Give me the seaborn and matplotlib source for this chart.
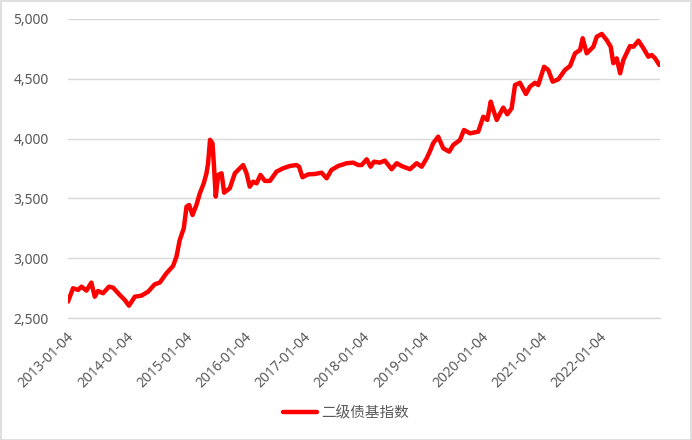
import pandas as pd
import matplotlib
matplotlib.use('Agg')
import matplotlib.pyplot as plt
from matplotlib.patches import Rectangle
from matplotlib.transforms import ScaledTranslation
import seaborn as sns

# Données (date, valeur de l'indice)
dates = [
    '2013-01-04', '2013-02-04', '2013-03-07', '2013-03-28', '2013-04-28',
    '2013-05-28', '2013-06-18', '2013-07-08', '2013-08-08', '2013-09-14',
    '2013-10-09', '2013-11-19', '2013-12-20', '2014-01-15', '2014-02-20',
    '2014-04-02', '2014-05-13', '2014-06-23', '2014-07-24', '2014-09-03',
    '2014-10-14', '2014-11-04', '2014-11-24', '2014-12-19', '2015-01-05',
    '2015-01-21', '2015-02-11', '2015-03-07', '2015-03-28', '2015-04-21',
    '2015-05-08', '2015-05-18', '2015-05-30', '2015-06-14', '2015-06-22',
    '2015-07-04', '2015-07-19', '2015-08-09', '2015-08-25', '2015-09-29',
    '2015-10-30', '2015-11-30', '2015-12-20', '2016-01-10', '2016-01-30',
    '2016-02-20', '2016-03-12', '2016-04-05', '2016-05-02', '2016-06-02',
    '2016-07-13', '2016-08-23', '2016-10-03', '2016-11-13', '2016-11-29',
    '2016-12-20', '2017-01-24', '2017-03-06', '2017-04-17', '2017-05-18',
    '2017-06-17', '2017-07-28', '2017-09-18', '2017-10-29', '2017-11-29',
    '2017-12-20', '2018-01-20', '2018-02-13', '2018-03-06', '2018-04-11',
    '2018-05-12', '2018-06-23', '2018-07-24', '2018-08-23', '2018-10-14',
    '2018-11-24', '2018-12-25', '2019-01-25', '2019-02-16', '2019-03-06',
    '2019-04-06', '2019-05-07', '2019-06-13', '2019-07-08', '2019-08-18',
    '2019-09-12', '2019-10-19', '2019-12-09', '2020-01-09', '2020-02-03',
    '2020-02-24', '2020-03-11', '2020-04-01', '2020-05-11', '2020-06-05',
    '2020-07-02', '2020-07-23', '2020-08-22', '2020-09-28', '2020-10-23',
    '2020-11-23', '2020-12-13', '2021-01-18', '2021-02-13', '2021-03-12',
    '2021-04-16', '2021-05-27', '2021-06-27', '2021-07-28', '2021-08-28',
    '2021-09-13', '2021-10-08', '2021-11-18', '2021-12-09', '2022-01-09',
    '2022-02-08', '2022-03-05', '2022-03-21', '2022-04-11', '2022-05-02',
    '2022-05-22', '2022-07-02', '2022-07-23', '2022-08-23', '2022-09-23',
    '2022-10-23', '2022-11-13', '2022-12-04', '2022-12-30',
]
valeurs = [
    2637, 2749, 2735, 2762, 2729, 2796, 2678, 2726, 2707, 2762,
    2754, 2693, 2651, 2603, 2678, 2687, 2720, 2782, 2796, 2874,
    2935, 3013, 3152, 3250, 3431, 3445, 3361, 3445, 3542, 3626,
    3710, 3794, 3990, 3961, 3800, 3515, 3696, 3710, 3548, 3585,
    3710, 3752, 3779, 3710, 3598, 3640, 3626, 3696, 3646, 3646,
    3724, 3752, 3771, 3779, 3765, 3677, 3701, 3704, 3715, 3668,
    3738, 3771, 3794, 3799, 3779, 3779, 3827, 3765, 3807, 3799,
    3816, 3744, 3794, 3771, 3744, 3794, 3765, 3835, 3900, 3961,
    4016, 3919, 3891, 3947, 3988, 4072, 4044, 4058, 4183, 4156,
    4309, 4239, 4156, 4259, 4203, 4253, 4448, 4467, 4373, 4434,
    4467, 4448, 4601, 4574, 4476, 4496, 4574, 4607, 4713, 4741,
    4839, 4713, 4768, 4852, 4875, 4824, 4768, 4630, 4671, 4546,
    4657, 4774, 4768, 4819, 4755, 4685, 4699, 4671, 4615,
]
ticks_x = ['2013-01-04', '2014-01-04', '2015-01-04', '2016-01-04',
           '2017-01-04', '2018-01-04', '2019-01-04', '2020-01-04',
           '2021-01-04', '2022-01-04']
ticks_y = [2500, 3000, 3500, 4000, 4500, 5000]
nom_serie = '二级债基指数'

data = pd.DataFrame({'date': pd.to_datetime(dates), 'valeur': valeurs})

sns.set_style('white')
plt.rcParams['font.family'] = ['Noto Sans', 'Noto Sans CJK SC', 'DejaVu Sans']

gris = '#d9d9d9'
texte = '#595959'

fig = plt.figure(figsize=(6.92, 4.40), dpi=100)
ax = fig.add_axes([68 / 692, 1 - 318 / 440, (660 - 68) / 692, (318 - 19) / 440])

sns.lineplot(ax=ax, data=data, x='date', y='valeur', color='#ff0000',
             linewidth=3.2, label=nom_serie, legend=False)

ax.set_ylim(2500, 5000)
ax.set_xlim(pd.Timestamp('2013-01-04'), pd.Timestamp('2023-01-03'))
ax.set_yticks(ticks_y)
ax.set_yticklabels([f'{v:,}' for v in ticks_y])
ax.set_xticks(pd.to_datetime(ticks_x))
ax.set_xticklabels(ticks_x)
ax.yaxis.grid(True, color=gris, linewidth=1)
ax.xaxis.grid(False)
ax.set_xlabel('')
ax.set_ylabel('')

for side in ['top', 'right', 'left']:
    ax.spines[side].set_visible(False)
ax.spines['bottom'].set_color(gris)
ax.spines['bottom'].set_linewidth(1)

ax.tick_params(axis='y', length=0, pad=14, labelsize=10, labelcolor=texte)
ax.tick_params(axis='x', length=4, width=1, color=gris, direction='out',
               labelsize=10, labelcolor=texte, pad=8)
decalage = ScaledTranslation(4 / 100, 0, fig.dpi_scale_trans)
for lab in ax.get_xticklabels():
    lab.set_rotation(45)
    lab.set_ha('right')
    lab.set_va('center')
    lab.set_rotation_mode('anchor')
    lab.set_transform(lab.get_transform() + decalage)

leg = fig.legend(loc='center', bbox_to_anchor=(0.5, 1 - 413 / 440),
                 frameon=False, handlelength=2.3, handletextpad=0.3,
                 prop={'family': ['Noto Sans CJK SC', 'DejaVu Sans'],
                       'size': 10.5})
for t in leg.get_texts():
    t.set_color(texte)

fig.patches.append(Rectangle((0.001, 0.001), 0.997, 0.997,
                             transform=fig.transFigure, fill=False,
                             edgecolor=gris, linewidth=1.2))

plt.savefig('out.png', dpi=100)
